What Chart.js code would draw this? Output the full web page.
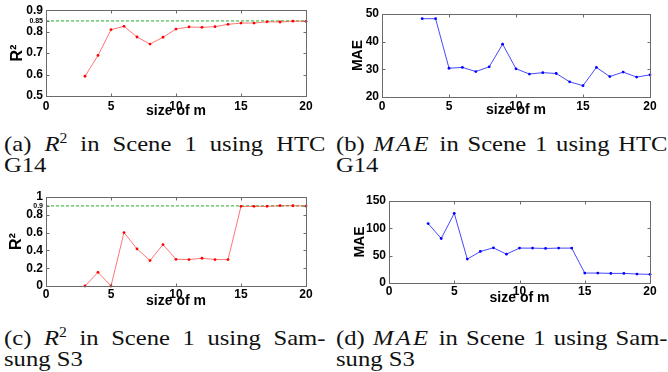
<!DOCTYPE html>
<html>
<head>
<meta charset="utf-8">
<script src="https://cdn.jsdelivr.net/npm/chart.js@4.4.0/dist/chart.umd.min.js"></script>
<style>
  body { margin: 0; background: #fff; width: 668px; height: 372px; position: relative; overflow: hidden; }
  canvas { position: absolute; }
  .cap { position: absolute; font-family: "Liberation Serif", "Times New Roman", serif; font-size: 22px; line-height: 21px; color: #111; white-space: nowrap; transform: scaleX(1.12); transform-origin: 0 0; }
  .cap.full { text-align: justify; text-align-last: justify; white-space: normal; }
  .cap sup { font-size: 14px; vertical-align: 0; position: relative; top: -8px; }
  .cap i.m { letter-spacing: 2px; }
</style>
</head>
<body>
<canvas id="chartA" width="334" height="120" style="left:0;top:0"></canvas>
<canvas id="chartB" width="334" height="119" style="left:334px;top:0"></canvas>
<canvas id="chartC" width="334" height="130" style="left:0;top:180px"></canvas>
<canvas id="chartD" width="334" height="127" style="left:334px;top:180px"></canvas>

<div class="cap full" style="left:4px;top:133px;width:287px">(a) <i>R</i><sup>2</sup> in Scene 1 using HTC</div>
<div class="cap" style="left:4px;top:154px">G14</div>
<div class="cap full" style="left:336px;top:133px;width:296px">(b) <i class="m">MAE</i> in Scene 1 using HTC</div>
<div class="cap" style="left:336px;top:154px">G14</div>
<div class="cap full" style="left:4px;top:327px;width:287px">(c) <i>R</i><sup>2</sup> in Scene 1 using Sam-</div>
<div class="cap" style="left:4px;top:348px">sung S3</div>
<div class="cap full" style="left:336px;top:327px;width:296px">(d) <i class="m">MAE</i> in Scene 1 using Sam-</div>
<div class="cap" style="left:336px;top:348px">sung S3</div>

<script>
// window size m on the x axis
const mSizes = [3, 4, 5, 6, 7, 8, 9, 10, 11, 12, 13, 14, 15, 16, 17, 18, 19, 20];

// Scene 1, HTC G14
const r2Htc = [0.592, 0.689, 0.809, 0.825, 0.775, 0.742, 0.774, 0.812, 0.822, 0.820, 0.823, 0.834, 0.840, 0.840, 0.846, 0.845, 0.849, 0.848];
const maeHtc = [48.3, 48.3, 30.4, 30.7, 29.2, 30.9, 39.1, 30.2, 28.3, 28.8, 28.5, 25.5, 24.1, 30.7, 27.4, 29.0, 27.2, 28.0];

// Scene 1, Samsung S3
const r2Samsung = [0, 0.154, 0, 0.60, 0.417, 0.286, 0.466, 0.30, 0.297, 0.312, 0.297, 0.297, 0.895, 0.895, 0.895, 0.902, 0.902, 0.898];
const maeSamsung = [108.7, 81.4, 127.5, 43.7, 57.7, 64.4, 52.8, 63.8, 63.8, 63.2, 63.8, 63.8, 18.2, 18.2, 17.6, 17.6, 16.4, 15.8];

// reference levels (green dashed lines)
const r2HtcTarget = 0.85;
const r2SamsungTarget = 0.9;

// tick labels
const xTicks = [0, 5, 10, 15, 20];
const r2HtcTicks = [0.5, 0.6, 0.7, 0.8, 0.85, 0.9];
const maeHtcTicks = [20, 30, 40, 50];
const r2SamsungTicks = [0, 0.2, 0.4, 0.6, 0.8, 0.9, 1];
const maeSamsungTicks = [0, 50, 100, 150];

const FONT = '"Liberation Sans", Arial, sans-serif';

// MATLAB style box with inward tick marks on all four sides
const matlabBox = {
  id: 'matlabBox',
  afterDraw(chart) {
    const { ctx, chartArea: a, scales } = chart;
    const L = Math.round(a.left) + 0.5, R = Math.round(a.right) + 0.5;
    const T = Math.round(a.top) + 0.5, B = Math.round(a.bottom) + 0.5;
    ctx.save();
    ctx.strokeStyle = '#6a6a6a';
    ctx.lineWidth = 1;
    ctx.strokeRect(L, T, R - L, B - T);
    ctx.beginPath();
    scales.x.ticks.forEach(t => {
      const px = Math.round(scales.x.getPixelForValue(t.value)) + 0.5;
      ctx.moveTo(px, B); ctx.lineTo(px, B - 3);
      ctx.moveTo(px, T); ctx.lineTo(px, T + 3);
    });
    scales.y.ticks.forEach(t => {
      const py = Math.round(scales.y.getPixelForValue(t.value)) + 0.5;
      ctx.moveTo(L, py); ctx.lineTo(L + 3, py);
      ctx.moveTo(R, py); ctx.lineTo(R - 3, py);
    });
    ctx.stroke();
    ctx.restore();
  }
};

function toPoints(values) {
  return mSizes.map((m, i) => ({ x: m, y: values[i] }));
}

function buildChart(id, p) {
  const datasets = [{
    data: toPoints(p.values),
    borderColor: p.lineColor,
    borderWidth: 1,
    pointRadius: 1.4,
    pointBackgroundColor: p.dotColor,
    pointBorderWidth: 0,
    tension: 0,
    clip: false
  }];
  if (p.target !== undefined) {
    datasets.push({
      data: [{ x: xTicks[0], y: p.target }, { x: xTicks[xTicks.length - 1], y: p.target }],
      borderColor: '#22b022',
      borderWidth: 1,
      borderDash: [3, 2],
      pointRadius: 0
    });
  }
  return new Chart(document.getElementById(id), {
    type: 'line',
    data: { datasets },
    plugins: [matlabBox],
    options: {
      responsive: false,
      animation: false,
      layout: { padding: { left: 0, right: p.padRight, top: p.padTop, bottom: 0 } },
      plugins: { legend: { display: false }, tooltip: { enabled: false } },
      scales: {
        x: {
          type: 'linear', min: 0, max: 20,
          afterBuildTicks: s => { s.ticks = xTicks.map(v => ({ value: v })); },
          afterFit: s => { s.height = p.xHeight; },
          grid: { display: false, drawTicks: false },
          border: { display: false },
          ticks: { autoSkip: false, maxRotation: 0, padding: p.xPad, color: '#000',
                   font: { family: FONT, weight: 'bold', size: 12 } },
          title: { display: true, text: 'size of m', color: '#000', padding: 0,
                   font: { family: FONT, weight: 'bold', size: 14 } }
        },
        y: {
          type: 'linear', min: p.yTicks[0], max: p.yTicks[p.yTicks.length - 1],
          afterBuildTicks: s => { s.ticks = p.yTicks.map(v => ({ value: v })); },
          afterFit: s => { s.width = p.yWidth; },
          grid: { display: false, drawTicks: false },
          border: { display: false },
          ticks: {
            autoSkip: false, padding: 3, color: '#000',
            callback: v => String(v),
            font: ctx => ({ family: FONT, weight: 'bold',
                            size: ctx.tick && ctx.tick.value === p.target ? 7 : 12 })
          },
          title: { display: true, text: p.yTitle, color: '#000',
                   padding: { top: p.yTitlePad, bottom: 0 },
                   font: { family: FONT, weight: 'bold', size: p.yTitleSize } }
        }
      }
    }
  });
}

buildChart('chartA', {
  values: r2Htc, yTicks: r2HtcTicks, target: r2HtcTarget,
  lineColor: 'rgba(255,60,60,0.7)', dotColor: '#ff0000',
  yTitle: 'R²', yTitleSize: 16, yTitlePad: 8,
  yWidth: 46, padRight: 28, padTop: 10, xHeight: 24, xPad: 3
});

buildChart('chartB', {
  values: maeHtc, yTicks: maeHtcTicks,
  lineColor: 'rgba(40,40,255,0.85)', dotColor: '#0000ff',
  yTitle: 'MAE', yTitleSize: 14, yTitlePad: 16,
  yWidth: 48, padRight: 18, padTop: 14, xHeight: 22, xPad: 2
});

buildChart('chartC', {
  values: r2Samsung, yTicks: r2SamsungTicks, target: r2SamsungTarget,
  lineColor: 'rgba(255,60,60,0.7)', dotColor: '#ff0000',
  yTitle: 'R²', yTitleSize: 16, yTitlePad: 7,
  yWidth: 46, padRight: 28, padTop: 17, xHeight: 24, xPad: 1
});

buildChart('chartD', {
  values: maeSamsung, yTicks: maeSamsungTicks,
  lineColor: 'rgba(40,40,255,0.85)', dotColor: '#0000ff',
  yTitle: 'MAE', yTitleSize: 14, yTitlePad: 18,
  yWidth: 55, padRight: 18, padTop: 21, xHeight: 24, xPad: 1
});
</script>
</body>
</html>
